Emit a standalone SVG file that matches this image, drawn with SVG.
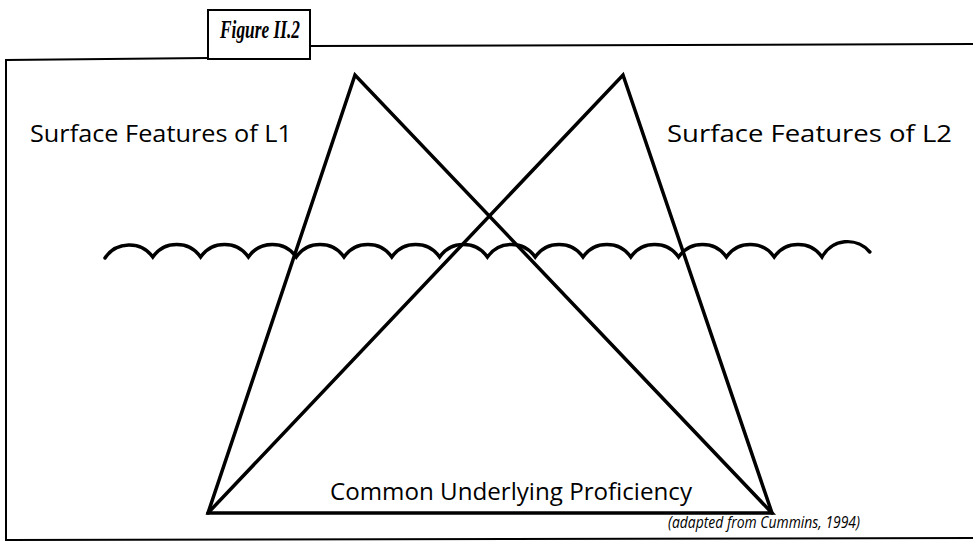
<svg xmlns="http://www.w3.org/2000/svg" width="973" height="558" viewBox="0 0 973 558">
<style>
.ln{fill:none;stroke:#000;stroke-width:3.5;stroke-linejoin:miter;stroke-linecap:round}
.fr{fill:none;stroke:#000;stroke-width:2}
.lbl{font-family:"Open Sans","Noto Sans",sans-serif;font-size:23px;fill:#000}
.cap{font-family:"Open Sans","Noto Sans",sans-serif;font-size:17px;font-style:italic;fill:#000}
.ttl{font-family:"Liberation Serif",serif;font-size:25px;font-weight:bold;font-style:italic;fill:#000}
</style>
<rect width="973" height="558" fill="#fff"/>
<g id="frame">
<path class="fr" d="M208,58 L6,60 L6,540 L973,538"/>
<path class="fr" d="M310,46 L973,44"/>
</g>
<g id="title">
<rect x="208" y="10" width="102" height="49" fill="#fff" stroke="#000" stroke-width="2"/>
<text class="ttl" x="260" y="38" text-anchor="middle" textLength="80" lengthAdjust="spacingAndGlyphs">Figure II.2</text>
</g>
<g id="connectors">
<path class="ln" d="M208,513 L355,75 L772,513 Z"/>
<path class="ln" d="M208,513 L623,75 L772,513"/>
</g>
<g id="surface">
<path class="ln" d="M105,258 A29 29 0 0 1 152.8,257 A29 29 0 0 1 200.6,257 A29 29 0 0 1 248.4,257 A29 29 0 0 1 296.2,257 A29 29 0 0 1 344,257 A29 29 0 0 1 391.8,257 A29 29 0 0 1 439.6,257 A29 29 0 0 1 487.4,257 A29 29 0 0 1 535.2,257 A29 29 0 0 1 583,257 A29 29 0 0 1 630.8,257 A29 29 0 0 1 678.6,257 A29 29 0 0 1 726.4,257 A29 29 0 0 1 774.2,257 A29 29 0 0 1 822,257 A29 29 0 0 1 869.8,252"/>
</g>
<g id="label-l1"><text class="lbl" x="30" y="142" textLength="262" lengthAdjust="spacingAndGlyphs">Surface Features of L1</text></g>
<g id="label-l2"><text class="lbl" x="667" y="142" textLength="285" lengthAdjust="spacingAndGlyphs">Surface Features of L2</text></g>
<g id="label-cup"><text class="lbl" x="330" y="500" textLength="362" lengthAdjust="spacingAndGlyphs">Common Underlying Proficiency</text></g>
<g id="caption"><text class="cap" x="668" y="528" textLength="192" lengthAdjust="spacingAndGlyphs">(adapted from Cummins, 1994)</text></g>
</svg>
